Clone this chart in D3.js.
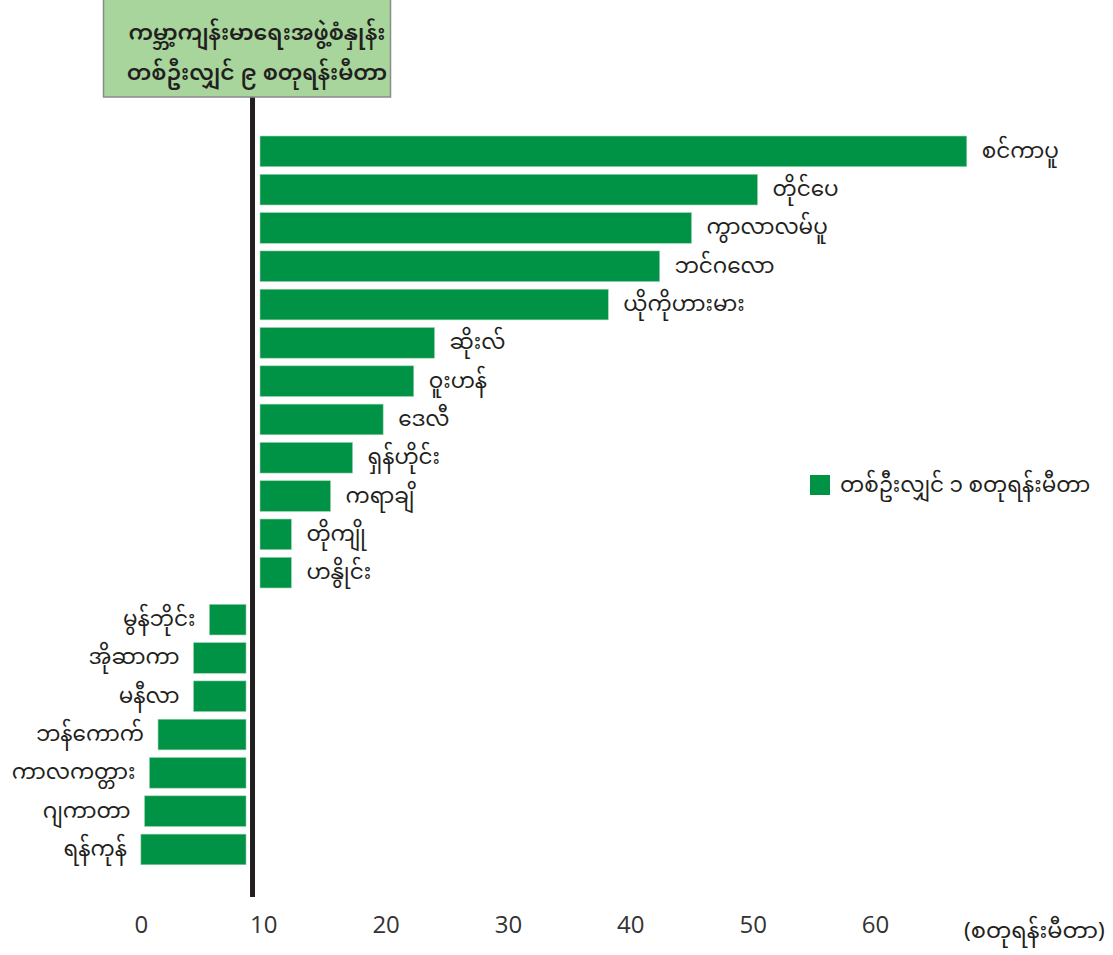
<!DOCTYPE html>
<html>
<head>
<meta charset="utf-8">
<script src="https://cdn.jsdelivr.net/npm/d3@7"></script>
<style>
   body { margin: 0; background: #ffffff; }
   svg text { font-family: "Noto Sans Myanmar", "Padauk", "Myanmar Text", "Noto Sans", sans-serif; fill: #231f20; }
   .tickText { font-family: "Open Sans", "Noto Sans", sans-serif; font-weight: 400; fill: #333333; }
</style>
</head>
<body>
<svg id="chart" width="1113" height="955"></svg>
<script>
// cities above the 9 m2 line
var aboveCities = ["စင်ကာပူ", "တိုင်ပေ", "ကွာလာလမ်ပူ", "ဘင်ဂလော", "ယိုကိုဟားမား", "ဆိုးလ်",
   "ဝူးဟန်", "ဒေလီ", "ရှန်ဟိုင်း", "ကရာချိ", "တိုကျို", "ဟနွိုင်း"];
var aboveValues = [67.5, 50.4, 45.0, 42.4, 38.2, 24.0, 22.3, 19.8, 17.3, 15.5, 12.3, 12.3];
// cities below the 9 m2 line
var belowCities = ["မွန်ဘိုင်း", "အိုဆာကာ", "မနီလာ", "ဘန်ကောက်", "ကာလကတ္တား", "ဂျကာတာ", "ရန်ကုန်"];
var belowValues = [5.6, 4.3, 4.3, 1.4, 0.7, 0.3, 0.0];
var tickValues = [0, 10, 20, 30, 40, 50, 60];
var standardValue = 9;
var titleLines = ["ကမ္ဘာ့ကျန်းမာရေးအဖွဲ့စံနှုန်း", "တစ်ဦးလျှင် ၉ စတုရန်းမီတာ"];
var legendText = "တစ်ဦးလျှင် ၁ စတုရန်းမီတာ";
var unitText = "(စတုရန်းမီတာ)";

var svg = d3.select("#chart");
var barColor = "#009245";
var step = 38.3;
var labelSize = 21.5;

var x = d3.scaleLinear().domain([0, 60]).range([140.9, 875]);
var yAbove = d3.scaleBand().domain(aboveCities)
   .range([132.2, 132.2 + step * aboveCities.length]).paddingInner(0.2).paddingOuter(0.1);
var yBelow = d3.scaleBand().domain(belowCities)
   .range([600.5, 600.5 + step * belowCities.length]).paddingInner(0.2).paddingOuter(0.1);

var aboveData = aboveCities.map(function(c, i){ return {city: c, value: aboveValues[i]}; });
var belowData = belowCities.map(function(c, i){ return {city: c, value: belowValues[i]}; });

//Bars to the right of the line
svg.selectAll("rect.above")
   .data(aboveData)
   .enter()
   .append("rect")
   .attr("class", "above")
   .attr("x", x(standardValue) + 9)
   .attr("y", function(d){ return yAbove(d.city); })
   .attr("width", function(d){ return x(d.value) - x(standardValue) - 9; })
   .attr("height", yAbove.bandwidth())
   .attr("fill", barColor)
   .attr("stroke", "#9ad3ae")
   .attr("stroke-width", 0.6);
svg.selectAll("text.aboveLabel")
   .data(aboveData)
   .enter()
   .append("text")
   .attr("class", "aboveLabel")
   .attr("x", function(d){ return x(d.value) + 15; })
   .attr("y", function(d){ return yAbove(d.city) + yAbove.bandwidth() / 2; })
   .attr("dy", "0.3em")
   .attr("font-size", labelSize)
   .text(function(d){ return d.city; });

//Bars to the left of the line
svg.selectAll("rect.below")
   .data(belowData)
   .enter()
   .append("rect")
   .attr("class", "below")
   .attr("x", function(d){ return x(d.value); })
   .attr("y", function(d){ return yBelow(d.city); })
   .attr("width", function(d){ return x(standardValue) - 5 - x(d.value); })
   .attr("height", yBelow.bandwidth())
   .attr("fill", barColor)
   .attr("stroke", "#9ad3ae")
   .attr("stroke-width", 0.6);
svg.selectAll("text.belowLabel")
   .data(belowData)
   .enter()
   .append("text")
   .attr("class", "belowLabel")
   .attr("text-anchor", "end")
   .attr("x", function(d){ return x(d.value) - 14; })
   .attr("y", function(d){ return yBelow(d.city) + yBelow.bandwidth() / 2; })
   .attr("dy", "0.3em")
   .attr("font-size", labelSize)
   .text(function(d){ return d.city; });

//Standard line
svg.append("line")
   .attr("x1", x(standardValue) + 1.5)
   .attr("x2", x(standardValue) + 1.5)
   .attr("y1", 96)
   .attr("y2", 897)
   .attr("stroke", "#231f20")
   .attr("stroke-width", 5);

//Title box
svg.append("rect")
   .attr("x", 103.5)
   .attr("y", -1)
   .attr("width", 287)
   .attr("height", 98)
   .attr("fill", "#a8d59c")
   .attr("stroke", "#8a8a8a")
   .attr("stroke-width", 1.5);
svg.selectAll("text.title")
   .data(titleLines)
   .enter()
   .append("text")
   .attr("class", "title")
   .attr("text-anchor", "middle")
   .attr("x", 257)
   .attr("y", function(d, i){ return 33 + i * 40; })
   .attr("dy", "0.3em")
   .attr("font-size", 22)
   .attr("font-weight", 600)
   .text(function(d){ return d; });

//Legend
svg.append("rect")
   .attr("x", 810)
   .attr("y", 475)
   .attr("width", 20)
   .attr("height", 20)
   .attr("fill", barColor);
svg.append("text")
   .attr("x", 840)
   .attr("y", 486)
   .attr("dy", "0.3em")
   .attr("font-size", labelSize)
   .text(legendText);

//Axis
var axis = svg.append("g")
   .attr("transform", "translate(0,916)")
   .call(d3.axisBottom(x).tickValues(tickValues).tickSize(0).tickPadding(0));
axis.select(".domain").remove();
axis.selectAll("text")
   .attr("class", "tickText")
   .attr("font-size", 24)
   .attr("dy", "0.71em");
svg.append("text")
   .attr("x", 964)
   .attr("y", 931)
   .attr("dy", "0.3em")
   .attr("font-size", 22.5)
   .text(unitText);
</script>
</body>
</html>
